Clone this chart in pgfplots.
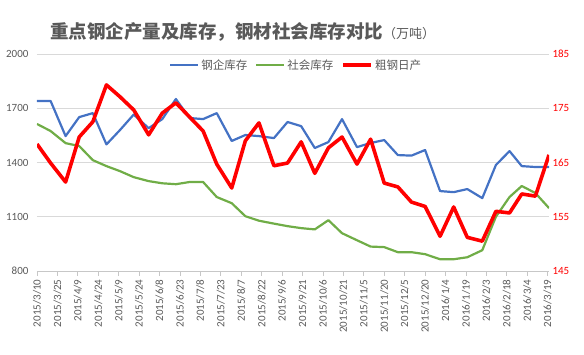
\documentclass[border=0pt]{standalone}
\usepackage{pgfplots}
\pgfplotsset{compat=1.18}
\usepackage{pgfplotstable}
\usepackage{fontspec}
\setmainfont{Carlito}
\newfontfamily\cjk{Noto Sans CJK SC}
\definecolor{cblue}{HTML}{4472C4}
\definecolor{cgreen}{HTML}{70AD47}
\definecolor{cred}{HTML}{FF0000}
\definecolor{ctext}{HTML}{595959}
\definecolor{cgrid}{HTML}{D9D9D9}

\pgfplotstableread{
day qiye shehui rixchan
0   1740 1613 168.4
10  1740 1574 164.9
21  1546 1507 161.4
31  1651 1491 169.7
41  1673 1413 172.5
51  1500 1380 179.3
61  1580 1352 177.1
71  1665 1319 174.7
82  1590 1297 170.1
92  1640 1285 174.1
102 1751 1280 176.0
112 1646 1292 173.4
122 1640 1292 170.8
132 1673 1209 164.7
143 1519 1175 160.3
153 1552 1103 169.0
163 1546 1078 172.3
174 1535 1062 164.4
184 1624 1048 164.9
194 1601 1037 168.8
204 1480 1030 163.0
214 1513 1081 167.7
224 1640 1009 169.7
235 1485 970  164.7
245 1508 935  169.3
255 1524 932  161.2
265 1441 904  160.5
275 1438 904  157.7
285 1469 893  156.9
296 1242 865  151.4
306 1236 865  156.8
316 1253 876  151.2
327 1203 915  150.5
337 1386 1100 156.0
347 1463 1209 155.7
356 1380 1270 159.2
366 1375 1231 158.8
376 1375 1148 166.4
}\datatable

\begin{document}
\begin{tikzpicture}
\path[use as bounding box] (-37pt,-84pt) rectangle (547pt,271pt);
\begin{axis}[
  scale only axis,
  width=512pt, height=217pt,
  xmin=0, xmax=376,
  ymin=800, ymax=2000,
  ytick={800,1100,1400,1700,2000},
  xtick={0,15,...,375},
  xticklabels={2015/3/10,2015/3/25,2015/4/9,2015/4/24,2015/5/9,2015/5/24,2015/6/8,2015/6/23,2015/7/8,2015/7/23,2015/8/7,2015/8/22,2015/9/6,2015/9/21,2015/10/6,2015/10/21,2015/11/5,2015/11/20,2015/12/5,2015/12/20,2016/1/4,2016/1/19,2016/2/3,2016/2/18,2016/3/4,2016/3/19},
  x tick label style={rotate=90, anchor=east, font=\fontsize{11}{13}\selectfont, text=ctext},
  y tick label style={font=\fontsize{11}{13}\selectfont, text=ctext},
  /pgf/number format/assume math mode=true,
  /pgf/number format/1000 sep={},
  axis x line*=bottom,
  axis y line*=left,
  y axis line style={draw=none},
  x axis line style={draw=cgrid!80!gray, line width=0.8pt},
  xtick style={draw=cgrid!80!gray, line width=0.8pt},
  xtick pos=bottom,
  major tick length=5pt,
  tick align=outside,
  ytick style={draw=none},
  ymajorgrids,
  grid style={cgrid, line width=0.8pt},
  legend style={at={(0.506,0.949)}, anchor=center, draw=none, fill=none,
    legend columns=3, font=\cjk\fontsize{11.5}{13}\selectfont, text=ctext,
    /tikz/every even column/.append style={column sep=6pt}},
  legend image code/.code={\draw[#1] (0pt,0pt) -- (28pt,0pt);},
]
\addplot[cblue, line width=2.2pt, line join=round] table[x=day, y=qiye] {\datatable};
\addlegendentry{钢企库存}
\addplot[cgreen, line width=2.2pt, line join=round] table[x=day, y=shehui] {\datatable};
\addlegendentry{社会库存}
\addlegendimage{cred, line width=3.6pt}
\addlegendentry{粗钢日产}
\end{axis}
\begin{axis}[
  scale only axis,
  width=512pt, height=217pt,
  xmin=0, xmax=376,
  ymin=145, ymax=185,
  ytick={145,155,165,175,185},
  axis x line=none,
  axis y line*=right,
  y axis line style={draw=none},
  ytick style={draw=none},
  y tick label style={font=\fontsize{11}{13}\selectfont, text=cred},
  /pgf/number format/assume math mode=true,
]
\addplot[cred, line width=3.6pt, line join=round] table[x=day, y=rixchan] {\datatable};
\end{axis}
\node[anchor=west, text=ctext, inner sep=0pt] at (13pt,239pt) {\cjk\bfseries\fontsize{18.5}{20}\selectfont 重点钢企产量及库存，钢材社会库存对比\mdseries\fontsize{13}{15}\selectfont（万吨）};
\end{tikzpicture}
\end{document}
